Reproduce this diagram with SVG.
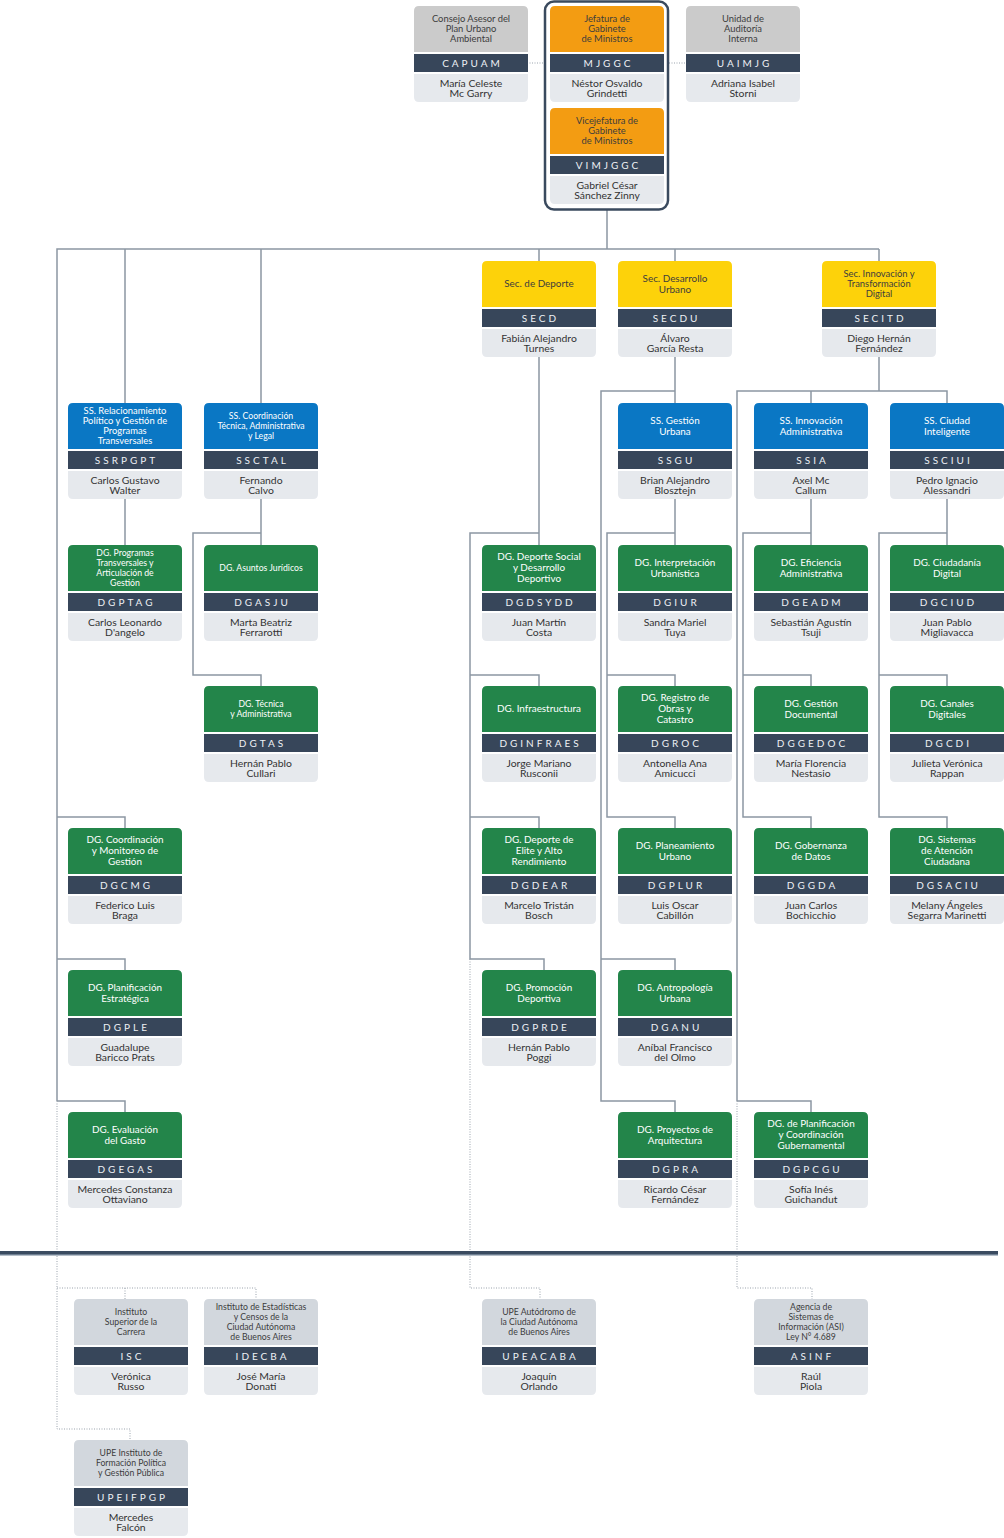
<svg xmlns="http://www.w3.org/2000/svg" width="1004" height="1538" viewBox="0 0 1004 1538">
<style>
.t{font-family:Lato,"Noto Sans","Liberation Sans",sans-serif;text-anchor:middle}
.h85{font-size:8.7px}.h9{font-size:9.4px}.h95{font-size:9.9px}
.w{fill:#ffffff}.k{fill:#3d3d3d}
.code{font-size:10px;letter-spacing:3px;fill:#eef1f5}
.nm{font-size:10.4px;fill:#333333}
.gr{fill:#cbcbcb}.or{fill:#f39c12}.ye{fill:#fdd20a}.bl{fill:#0a77c4}.gn{fill:#23854a}.gb{fill:#d2d7dd}
.cd{fill:#37465a}.nb{fill:#e6e9ed}
.ln{fill:none;stroke:#8c97a3;stroke-width:1.5}
.dt{fill:none;stroke:#9aa3ad;stroke-width:1;stroke-dasharray:1 1.5}
</style>
<defs>
<path id="H" d="M0,46V5Q0,0 5,0H109Q114,0 114,5V46Z"/>
<rect id="C" x="0" y="48" width="114" height="18"/>
<path id="N" d="M0,68H114V91Q114,96 109,96H5Q0,96 0,91Z"/>
</defs>
<rect width="1004" height="1538" fill="#ffffff"/>

<g id="connectors">
<path class="ln" d="M607,210V249M57,1101V249H879M125,249V403M261,249V403M539,249V261M675,249V261M879,249V261"/>
<path class="ln" d="M57,817H125V828M57,959H125V970M57,1101H125V1112M125,499V545"/>
<path class="ln" d="M261,499V545M261,533H193V675H261V686"/>
<path class="ln" d="M539,357V545M539,533H470V959H544V970M470,675H539V686M470,817H539V828"/>
<path class="ln" d="M675,357V403M675,391H601V1101H675V1112M601,959H675V970"/>
<path class="ln" d="M675,499V545M675,533H607V817H675V828M607,675H675V686"/>
<path class="ln" d="M879,357V391M737,1101V391H947V403M811,391V403M737,1101H811V1112"/>
<path class="ln" d="M811,499V545M811,533H743V817H811V828M743,675H811V686"/>
<path class="ln" d="M947,499V545M947,533H879V817H947V828M879,675H947V686"/>
<path class="dt" d="M527,63H544M669,63H686"/>
<path class="dt" d="M57,1101V1429H130V1440M57,1288H256V1299M125,1288V1299"/>
<path class="dt" d="M470,959V1288H540V1299M737,1101V1288H812V1299"/>
</g>

<rect x="0" y="1251" width="998" height="3" fill="#3a4b60"/>
<rect x="0" y="1254" width="998" height="1.5" fill="#6d7e91"/>

<rect id="frame" x="545" y="1.5" width="123" height="208" rx="9" fill="none" stroke="#3a4a5e" stroke-width="2.5"/>

<g id="n-capuam" transform="translate(414,6)"><use href="#H" class="gr"/><use href="#C" class="cd"/><use href="#N" class="nb"/>
<text class="t h9 k"><tspan x="57" y="16.2">Consejo Asesor del</tspan><tspan x="57" y="26.2">Plan Urbano</tspan><tspan x="57" y="36.2">Ambiental</tspan></text>
<text class="t code" x="58.5" y="60.5">CAPUAM</text>
<text class="t nm"><tspan x="57" y="80.5">María Celeste</tspan><tspan x="57" y="90.5">Mc Garry</tspan></text></g>

<g id="n-mjggc" transform="translate(550,6)"><use href="#H" class="or"/><use href="#C" class="cd"/><use href="#N" class="nb"/>
<text class="t h9 k"><tspan x="57" y="16.2">Jefatura de</tspan><tspan x="57" y="26.2">Gabinete</tspan><tspan x="57" y="36.2">de Ministros</tspan></text>
<text class="t code" x="58.5" y="60.5">MJGGC</text>
<text class="t nm"><tspan x="57" y="80.5">Néstor Osvaldo</tspan><tspan x="57" y="90.5">Grindetti</tspan></text></g>

<g id="n-uaimjg" transform="translate(686,6)"><use href="#H" class="gr"/><use href="#C" class="cd"/><use href="#N" class="nb"/>
<text class="t h9 k"><tspan x="57" y="16.2">Unidad de</tspan><tspan x="57" y="26.2">Auditoría</tspan><tspan x="57" y="36.2">Interna</tspan></text>
<text class="t code" x="58.5" y="60.5">UAIMJG</text>
<text class="t nm"><tspan x="57" y="80.5">Adriana Isabel</tspan><tspan x="57" y="90.5">Storni</tspan></text></g>

<g id="n-vimjggc" transform="translate(550,108)"><use href="#H" class="or"/><use href="#C" class="cd"/><use href="#N" class="nb"/>
<text class="t h9 k"><tspan x="57" y="16.2">Vicejefatura de</tspan><tspan x="57" y="26.2">Gabinete</tspan><tspan x="57" y="36.2">de Ministros</tspan></text>
<text class="t code" x="58.5" y="60.5">VIMJGGC</text>
<text class="t nm"><tspan x="57" y="80.5">Gabriel César</tspan><tspan x="57" y="90.5">Sánchez Zinny</tspan></text></g>

<g id="n-secd" transform="translate(482,261)"><use href="#H" class="ye"/><use href="#C" class="cd"/><use href="#N" class="nb"/>
<text class="t h95 k"><tspan x="57" y="26.4">Sec. de Deporte</tspan></text>
<text class="t code" x="58.5" y="60.5">SECD</text>
<text class="t nm"><tspan x="57" y="80.5">Fabián Alejandro</tspan><tspan x="57" y="90.5">Turnes</tspan></text></g>

<g id="n-secdu" transform="translate(618,261)"><use href="#H" class="ye"/><use href="#C" class="cd"/><use href="#N" class="nb"/>
<text class="t h95 k"><tspan x="57" y="20.9">Sec. Desarrollo</tspan><tspan x="57" y="31.9">Urbano</tspan></text>
<text class="t code" x="58.5" y="60.5">SECDU</text>
<text class="t nm"><tspan x="57" y="80.5">Álvaro</tspan><tspan x="57" y="90.5">García Resta</tspan></text></g>

<g id="n-secitd" transform="translate(822,261)"><use href="#H" class="ye"/><use href="#C" class="cd"/><use href="#N" class="nb"/>
<text class="t h9 k"><tspan x="57" y="16.2">Sec. Innovación y</tspan><tspan x="57" y="26.2">Transformación</tspan><tspan x="57" y="36.2">Digital</tspan></text>
<text class="t code" x="58.5" y="60.5">SECITD</text>
<text class="t nm"><tspan x="57" y="80.5">Diego Hernán</tspan><tspan x="57" y="90.5">Fernández</tspan></text></g>

<g id="n-ssrpgpt" transform="translate(68,403)"><use href="#H" class="bl"/><use href="#C" class="cd"/><use href="#N" class="nb"/>
<text class="t h9 w"><tspan x="57" y="11.2">SS. Relacionamiento</tspan><tspan x="57" y="21.2">Político y Gestión de</tspan><tspan x="57" y="31.2">Programas</tspan><tspan x="57" y="41.2">Transversales</tspan></text>
<text class="t code" x="58.5" y="60.5">SSRPGPT</text>
<text class="t nm"><tspan x="57" y="80.5">Carlos Gustavo</tspan><tspan x="57" y="90.5">Walter</tspan></text></g>

<g id="n-ssctal" transform="translate(204,403)"><use href="#H" class="bl"/><use href="#C" class="cd"/><use href="#N" class="nb"/>
<text class="t h85 w"><tspan x="57" y="16">SS. Coordinación</tspan><tspan x="57" y="26">Técnica, Administrativa</tspan><tspan x="57" y="36">y Legal</tspan></text>
<text class="t code" x="58.5" y="60.5">SSCTAL</text>
<text class="t nm"><tspan x="57" y="80.5">Fernando</tspan><tspan x="57" y="90.5">Calvo</tspan></text></g>

<g id="n-ssgu" transform="translate(618,403)"><use href="#H" class="bl"/><use href="#C" class="cd"/><use href="#N" class="nb"/>
<text class="t h95 w"><tspan x="57" y="20.9">SS. Gestión</tspan><tspan x="57" y="31.9">Urbana</tspan></text>
<text class="t code" x="58.5" y="60.5">SSGU</text>
<text class="t nm"><tspan x="57" y="80.5">Brian Alejandro</tspan><tspan x="57" y="90.5">Blosztejn</tspan></text></g>

<g id="n-ssia" transform="translate(754,403)"><use href="#H" class="bl"/><use href="#C" class="cd"/><use href="#N" class="nb"/>
<text class="t h95 w"><tspan x="57" y="20.9">SS. Innovación</tspan><tspan x="57" y="31.9">Administrativa</tspan></text>
<text class="t code" x="58.5" y="60.5">SSIA</text>
<text class="t nm"><tspan x="57" y="80.5">Axel Mc</tspan><tspan x="57" y="90.5">Callum</tspan></text></g>

<g id="n-ssciui" transform="translate(890,403)"><use href="#H" class="bl"/><use href="#C" class="cd"/><use href="#N" class="nb"/>
<text class="t h95 w"><tspan x="57" y="20.9">SS. Ciudad</tspan><tspan x="57" y="31.9">Inteligente</tspan></text>
<text class="t code" x="58.5" y="60.5">SSCIUI</text>
<text class="t nm"><tspan x="57" y="80.5">Pedro Ignacio</tspan><tspan x="57" y="90.5">Alessandri</tspan></text></g>

<g id="n-dgptag" transform="translate(68,545)"><use href="#H" class="gn"/><use href="#C" class="cd"/><use href="#N" class="nb"/>
<text class="t h85 w"><tspan x="57" y="11">DG. Programas</tspan><tspan x="57" y="21">Transversales y</tspan><tspan x="57" y="31">Articulación de</tspan><tspan x="57" y="41">Gestión</tspan></text>
<text class="t code" x="58.5" y="60.5">DGPTAG</text>
<text class="t nm"><tspan x="57" y="80.5">Carlos Leonardo</tspan><tspan x="57" y="90.5">D'angelo</tspan></text></g>

<g id="n-dgasju" transform="translate(204,545)"><use href="#H" class="gn"/><use href="#C" class="cd"/><use href="#N" class="nb"/>
<text class="t h85 w"><tspan x="57" y="26">DG. Asuntos Jurídicos</tspan></text>
<text class="t code" x="58.5" y="60.5">DGASJU</text>
<text class="t nm"><tspan x="57" y="80.5">Marta Beatriz</tspan><tspan x="57" y="90.5">Ferrarotti</tspan></text></g>

<g id="n-dgdsydd" transform="translate(482,545)"><use href="#H" class="gn"/><use href="#C" class="cd"/><use href="#N" class="nb"/>
<text class="t h95 w"><tspan x="57" y="15.4">DG. Deporte Social</tspan><tspan x="57" y="26.4">y Desarrollo</tspan><tspan x="57" y="37.4">Deportivo</tspan></text>
<text class="t code" x="58.5" y="60.5">DGDSYDD</text>
<text class="t nm"><tspan x="57" y="80.5">Juan Martín</tspan><tspan x="57" y="90.5">Costa</tspan></text></g>

<g id="n-dgiur" transform="translate(618,545)"><use href="#H" class="gn"/><use href="#C" class="cd"/><use href="#N" class="nb"/>
<text class="t h95 w"><tspan x="57" y="20.9">DG. Interpretación</tspan><tspan x="57" y="31.9">Urbanística</tspan></text>
<text class="t code" x="58.5" y="60.5">DGIUR</text>
<text class="t nm"><tspan x="57" y="80.5">Sandra Mariel</tspan><tspan x="57" y="90.5">Tuya</tspan></text></g>

<g id="n-dgeadm" transform="translate(754,545)"><use href="#H" class="gn"/><use href="#C" class="cd"/><use href="#N" class="nb"/>
<text class="t h95 w"><tspan x="57" y="20.9">DG. Eficiencia</tspan><tspan x="57" y="31.9">Administrativa</tspan></text>
<text class="t code" x="58.5" y="60.5">DGEADM</text>
<text class="t nm"><tspan x="57" y="80.5">Sebastián Agustín</tspan><tspan x="57" y="90.5">Tsuji</tspan></text></g>

<g id="n-dgciud" transform="translate(890,545)"><use href="#H" class="gn"/><use href="#C" class="cd"/><use href="#N" class="nb"/>
<text class="t h95 w"><tspan x="57" y="20.9">DG. Ciudadanía</tspan><tspan x="57" y="31.9">Digital</tspan></text>
<text class="t code" x="58.5" y="60.5">DGCIUD</text>
<text class="t nm"><tspan x="57" y="80.5">Juan Pablo</tspan><tspan x="57" y="90.5">Migliavacca</tspan></text></g>

<g id="n-dgtas" transform="translate(204,686)"><use href="#H" class="gn"/><use href="#C" class="cd"/><use href="#N" class="nb"/>
<text class="t h85 w"><tspan x="57" y="21">DG. Técnica</tspan><tspan x="57" y="31">y Administrativa</tspan></text>
<text class="t code" x="58.5" y="60.5">DGTAS</text>
<text class="t nm"><tspan x="57" y="80.5">Hernán Pablo</tspan><tspan x="57" y="90.5">Cullari</tspan></text></g>

<g id="n-dginfraes" transform="translate(482,686)"><use href="#H" class="gn"/><use href="#C" class="cd"/><use href="#N" class="nb"/>
<text class="t h95 w"><tspan x="57" y="26.4">DG. Infraestructura</tspan></text>
<text class="t code" x="58.5" y="60.5">DGINFRAES</text>
<text class="t nm"><tspan x="57" y="80.5">Jorge Mariano</tspan><tspan x="57" y="90.5">Rusconii</tspan></text></g>

<g id="n-dgroc" transform="translate(618,686)"><use href="#H" class="gn"/><use href="#C" class="cd"/><use href="#N" class="nb"/>
<text class="t h95 w"><tspan x="57" y="15.4">DG. Registro de</tspan><tspan x="57" y="26.4">Obras y</tspan><tspan x="57" y="37.4">Catastro</tspan></text>
<text class="t code" x="58.5" y="60.5">DGROC</text>
<text class="t nm"><tspan x="57" y="80.5">Antonella Ana</tspan><tspan x="57" y="90.5">Amicucci</tspan></text></g>

<g id="n-dggedoc" transform="translate(754,686)"><use href="#H" class="gn"/><use href="#C" class="cd"/><use href="#N" class="nb"/>
<text class="t h95 w"><tspan x="57" y="20.9">DG. Gestión</tspan><tspan x="57" y="31.9">Documental</tspan></text>
<text class="t code" x="58.5" y="60.5">DGGEDOC</text>
<text class="t nm"><tspan x="57" y="80.5">María Florencia</tspan><tspan x="57" y="90.5">Nestasio</tspan></text></g>

<g id="n-dgcdi" transform="translate(890,686)"><use href="#H" class="gn"/><use href="#C" class="cd"/><use href="#N" class="nb"/>
<text class="t h95 w"><tspan x="57" y="20.9">DG. Canales</tspan><tspan x="57" y="31.9">Digitales</tspan></text>
<text class="t code" x="58.5" y="60.5">DGCDI</text>
<text class="t nm"><tspan x="57" y="80.5">Julieta Verónica</tspan><tspan x="57" y="90.5">Rappan</tspan></text></g>

<g id="n-dgcmg" transform="translate(68,828)"><use href="#H" class="gn"/><use href="#C" class="cd"/><use href="#N" class="nb"/>
<text class="t h95 w"><tspan x="57" y="15.4">DG. Coordinación</tspan><tspan x="57" y="26.4">y Monitoreo de</tspan><tspan x="57" y="37.4">Gestión</tspan></text>
<text class="t code" x="58.5" y="60.5">DGCMG</text>
<text class="t nm"><tspan x="57" y="80.5">Federico Luis</tspan><tspan x="57" y="90.5">Braga</tspan></text></g>

<g id="n-dgdear" transform="translate(482,828)"><use href="#H" class="gn"/><use href="#C" class="cd"/><use href="#N" class="nb"/>
<text class="t h95 w"><tspan x="57" y="15.4">DG. Deporte de</tspan><tspan x="57" y="26.4">Elite y Alto</tspan><tspan x="57" y="37.4">Rendimiento</tspan></text>
<text class="t code" x="58.5" y="60.5">DGDEAR</text>
<text class="t nm"><tspan x="57" y="80.5">Marcelo Tristán</tspan><tspan x="57" y="90.5">Bosch</tspan></text></g>

<g id="n-dgplur" transform="translate(618,828)"><use href="#H" class="gn"/><use href="#C" class="cd"/><use href="#N" class="nb"/>
<text class="t h95 w"><tspan x="57" y="20.9">DG. Planeamiento</tspan><tspan x="57" y="31.9">Urbano</tspan></text>
<text class="t code" x="58.5" y="60.5">DGPLUR</text>
<text class="t nm"><tspan x="57" y="80.5">Luis Oscar</tspan><tspan x="57" y="90.5">Cabillón</tspan></text></g>

<g id="n-dggda" transform="translate(754,828)"><use href="#H" class="gn"/><use href="#C" class="cd"/><use href="#N" class="nb"/>
<text class="t h95 w"><tspan x="57" y="20.9">DG. Gobernanza</tspan><tspan x="57" y="31.9">de Datos</tspan></text>
<text class="t code" x="58.5" y="60.5">DGGDA</text>
<text class="t nm"><tspan x="57" y="80.5">Juan Carlos</tspan><tspan x="57" y="90.5">Bochicchio</tspan></text></g>

<g id="n-dgsaciu" transform="translate(890,828)"><use href="#H" class="gn"/><use href="#C" class="cd"/><use href="#N" class="nb"/>
<text class="t h95 w"><tspan x="57" y="15.4">DG. Sistemas</tspan><tspan x="57" y="26.4">de Atención</tspan><tspan x="57" y="37.4">Ciudadana</tspan></text>
<text class="t code" x="58.5" y="60.5">DGSACIU</text>
<text class="t nm"><tspan x="57" y="80.5">Melany Ángeles</tspan><tspan x="57" y="90.5">Segarra Marinetti</tspan></text></g>

<g id="n-dgple" transform="translate(68,970)"><use href="#H" class="gn"/><use href="#C" class="cd"/><use href="#N" class="nb"/>
<text class="t h95 w"><tspan x="57" y="20.9">DG. Planificación</tspan><tspan x="57" y="31.9">Estratégica</tspan></text>
<text class="t code" x="58.5" y="60.5">DGPLE</text>
<text class="t nm"><tspan x="57" y="80.5">Guadalupe</tspan><tspan x="57" y="90.5">Baricco Prats</tspan></text></g>

<g id="n-dgprde" transform="translate(482,970)"><use href="#H" class="gn"/><use href="#C" class="cd"/><use href="#N" class="nb"/>
<text class="t h95 w"><tspan x="57" y="20.9">DG. Promoción</tspan><tspan x="57" y="31.9">Deportiva</tspan></text>
<text class="t code" x="58.5" y="60.5">DGPRDE</text>
<text class="t nm"><tspan x="57" y="80.5">Hernán Pablo</tspan><tspan x="57" y="90.5">Poggi</tspan></text></g>

<g id="n-dganu" transform="translate(618,970)"><use href="#H" class="gn"/><use href="#C" class="cd"/><use href="#N" class="nb"/>
<text class="t h95 w"><tspan x="57" y="20.9">DG. Antropología</tspan><tspan x="57" y="31.9">Urbana</tspan></text>
<text class="t code" x="58.5" y="60.5">DGANU</text>
<text class="t nm"><tspan x="57" y="80.5">Aníbal Francisco</tspan><tspan x="57" y="90.5">del Olmo</tspan></text></g>

<g id="n-dgegas" transform="translate(68,1112)"><use href="#H" class="gn"/><use href="#C" class="cd"/><use href="#N" class="nb"/>
<text class="t h95 w"><tspan x="57" y="20.9">DG. Evaluación</tspan><tspan x="57" y="31.9">del Gasto</tspan></text>
<text class="t code" x="58.5" y="60.5">DGEGAS</text>
<text class="t nm"><tspan x="57" y="80.5">Mercedes Constanza</tspan><tspan x="57" y="90.5">Ottaviano</tspan></text></g>

<g id="n-dgpra" transform="translate(618,1112)"><use href="#H" class="gn"/><use href="#C" class="cd"/><use href="#N" class="nb"/>
<text class="t h95 w"><tspan x="57" y="20.9">DG. Proyectos de</tspan><tspan x="57" y="31.9">Arquitectura</tspan></text>
<text class="t code" x="58.5" y="60.5">DGPRA</text>
<text class="t nm"><tspan x="57" y="80.5">Ricardo César</tspan><tspan x="57" y="90.5">Fernández</tspan></text></g>

<g id="n-dgpcgu" transform="translate(754,1112)"><use href="#H" class="gn"/><use href="#C" class="cd"/><use href="#N" class="nb"/>
<text class="t h95 w"><tspan x="57" y="15.4">DG. de Planificación</tspan><tspan x="57" y="26.4">y Coordinación</tspan><tspan x="57" y="37.4">Gubernamental</tspan></text>
<text class="t code" x="58.5" y="60.5">DGPCGU</text>
<text class="t nm"><tspan x="57" y="80.5">Sofía Inés</tspan><tspan x="57" y="90.5">Guichandut</tspan></text></g>

<g id="n-isc" transform="translate(74,1299)"><use href="#H" class="gb"/><use href="#C" class="cd"/><use href="#N" class="nb"/>
<text class="t h85 k"><tspan x="57" y="16">Instituto</tspan><tspan x="57" y="26">Superior de la</tspan><tspan x="57" y="36">Carrera</tspan></text>
<text class="t code" x="58.5" y="60.5">ISC</text>
<text class="t nm"><tspan x="57" y="80.5">Verónica</tspan><tspan x="57" y="90.5">Russo</tspan></text></g>

<g id="n-idecba" transform="translate(204,1299)"><use href="#H" class="gb"/><use href="#C" class="cd"/><use href="#N" class="nb"/>
<text class="t h85 k"><tspan x="57" y="11">Instituto de Estadísticas</tspan><tspan x="57" y="21">y Censos de la</tspan><tspan x="57" y="31">Ciudad Autónoma</tspan><tspan x="57" y="41">de Buenos Aires</tspan></text>
<text class="t code" x="58.5" y="60.5">IDECBA</text>
<text class="t nm"><tspan x="57" y="80.5">José María</tspan><tspan x="57" y="90.5">Donati</tspan></text></g>

<g id="n-upeacaba" transform="translate(482,1299)"><use href="#H" class="gb"/><use href="#C" class="cd"/><use href="#N" class="nb"/>
<text class="t h85 k"><tspan x="57" y="16">UPE Autódromo de</tspan><tspan x="57" y="26">la Ciudad Autónoma</tspan><tspan x="57" y="36">de Buenos Aires</tspan></text>
<text class="t code" x="58.5" y="60.5">UPEACABA</text>
<text class="t nm"><tspan x="57" y="80.5">Joaquín</tspan><tspan x="57" y="90.5">Orlando</tspan></text></g>

<g id="n-asinf" transform="translate(754,1299)"><use href="#H" class="gb"/><use href="#C" class="cd"/><use href="#N" class="nb"/>
<text class="t h85 k"><tspan x="57" y="11">Agencia de</tspan><tspan x="57" y="21">Sistemas de</tspan><tspan x="57" y="31">Información (ASI)</tspan><tspan x="57" y="41">Ley N° 4.689</tspan></text>
<text class="t code" x="58.5" y="60.5">ASINF</text>
<text class="t nm"><tspan x="57" y="80.5">Raúl</tspan><tspan x="57" y="90.5">Piola</tspan></text></g>

<g id="n-upeifpgp" transform="translate(74,1440)"><use href="#H" class="gb"/><use href="#C" class="cd"/><use href="#N" class="nb"/>
<text class="t h85 k"><tspan x="57" y="16">UPE Instituto de</tspan><tspan x="57" y="26">Formación Política</tspan><tspan x="57" y="36">y Gestión Pública</tspan></text>
<text class="t code" x="58.5" y="60.5">UPEIFPGP</text>
<text class="t nm"><tspan x="57" y="80.5">Mercedes</tspan><tspan x="57" y="90.5">Falcón</tspan></text></g>
</svg>
